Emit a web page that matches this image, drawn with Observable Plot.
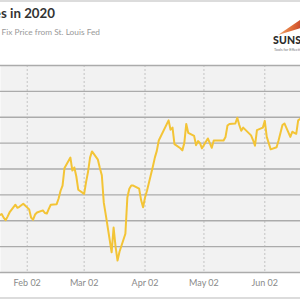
<!DOCTYPE html>
<html>
<head>
<meta charset="utf-8">
<script src="https://cdn.jsdelivr.net/npm/d3@7"></script>
<script src="https://cdn.jsdelivr.net/npm/@observablehq/plot@0.6"></script>
<style>
  html, body { margin: 0; padding: 0; background: #fff; }
  body { width: 300px; height: 300px; overflow: hidden; position: relative; font-family: Lato, "Open Sans", sans-serif; }
  #topline { position: absolute; left: 0; top: 0; width: 300px; height: 2px; background: #dcdcdc; }
  #title { position: absolute; right: 245px; top: 5px; white-space: nowrap; font-weight: 700; font-size: 13.3px; color: #333; }
  #subtitle { position: absolute; right: 200px; top: 27px; white-space: nowrap; font-size: 8.3px; color: #999; }
  #logo { position: absolute; left: 273px; top: 34px; white-space: nowrap; font-weight: 900; font-size: 10.5px; color: #2b2b2b; letter-spacing: 0.2px; }
  #tag { position: absolute; left: 274px; top: 47px; white-space: nowrap; font-size: 3.8px; color: #777; }
  #ray { position: absolute; left: 278px; top: 20px; width: 22px; height: 15px;
         background: linear-gradient(100deg, #f3b27a, #e0703a 60%, #c8462a);
         clip-path: polygon(0% 100%, 100% 0%, 100% 55%); }
  #chart { position: absolute; left: 0; top: 60px; }
  #bottomline { position: absolute; left: 0; top: 297px; width: 300px; height: 2px; background: #dcdcdc; }
</style>
</head>
<body>
<div id="topline"></div>
<div id="title">Gold Prices in 2020</div>
<div id="subtitle">LBMA Gold Price P.M. Fix Price from St. Louis Fed</div>
<div id="ray"></div>
<div id="logo">SUNSHINE PROFITS</div>
<div id="tag">Tools for Effective Gold &amp; Silver Investments</div>
<div id="chart"></div>
<div id="bottomline"></div>
<script>
const dates = [
  "2020-01-15","2020-01-16","2020-01-17","2020-01-20","2020-01-21","2020-01-22","2020-01-23","2020-01-24",
  "2020-01-27","2020-01-28","2020-01-29","2020-01-30","2020-01-31",
  "2020-02-03","2020-02-04","2020-02-05","2020-02-06","2020-02-07",
  "2020-02-10","2020-02-11","2020-02-12","2020-02-13","2020-02-14",
  "2020-02-17","2020-02-18","2020-02-19","2020-02-20","2020-02-21",
  "2020-02-24","2020-02-25","2020-02-26","2020-02-27","2020-02-28",
  "2020-03-02","2020-03-03","2020-03-04","2020-03-05","2020-03-06",
  "2020-03-09","2020-03-10","2020-03-11","2020-03-12","2020-03-13",
  "2020-03-16","2020-03-17","2020-03-18","2020-03-19","2020-03-20",
  "2020-03-23","2020-03-24","2020-03-25","2020-03-26","2020-03-27",
  "2020-03-30","2020-03-31","2020-04-01","2020-04-02","2020-04-03",
  "2020-04-06","2020-04-07","2020-04-08","2020-04-09",
  "2020-04-14","2020-04-15","2020-04-16","2020-04-17",
  "2020-04-20","2020-04-21","2020-04-22","2020-04-23","2020-04-24",
  "2020-04-27","2020-04-28","2020-04-29","2020-04-30","2020-05-01",
  "2020-05-04","2020-05-05","2020-05-06","2020-05-07",
  "2020-05-11","2020-05-12","2020-05-13","2020-05-14","2020-05-15",
  "2020-05-18","2020-05-19","2020-05-20","2020-05-21","2020-05-22",
  "2020-05-26","2020-05-27","2020-05-28","2020-05-29",
  "2020-06-01","2020-06-02","2020-06-03","2020-06-04","2020-06-05",
  "2020-06-08","2020-06-09","2020-06-10","2020-06-11","2020-06-12",
  "2020-06-15","2020-06-16","2020-06-17","2020-06-18","2020-06-19","2020-06-22"
];
const prices = [
  1552,1551,1557,1563,1556,1551,1558,1566,
  1581,1575,1577,1580,1583,
  1572,1556,1552,1562,1566,
  1570,1565,1564,1573,1581,
  1582,1593,1608,1618,1652,
  1672,1647,1653,1636,1610,
  1602,1625,1645,1672,1684,
  1668,1652,1638,1585,1562,
  1489,1537,1500,1473,1490,
  1525,1595,1612,1618,1618,
  1612,1590,1576,1595,1608,
  1655,1672,1685,1705,
  1744,1726,1730,1698,
  1690,1686,1700,1737,1720,
  1714,1696,1704,1700,1690,
  1709,1700,1691,1705,
  1705,1705,1712,1734,1737,
  1738,1749,1735,1724,1730,
  1715,1706,1695,1725,
  1730,1743,1712,1700,1688,
  1692,1705,1720,1735,1738,
  1712,1722,1720,1718,1744,1752
];
const tickDates = ["2020-02-02","2020-03-02","2020-04-02","2020-05-02","2020-06-02"];
const yTicks = [1450,1500,1550,1600,1650,1700,1750,1800,1850];

const data = dates.map((d, i) => ({date: new Date(d), price: prices[i]}));
const ticks = tickDates.map(d => new Date(d));

const chart = Plot.plot({
  width: 300,
  height: 240,
  marginTop: 5,
  marginBottom: 28,
  marginLeft: 0,
  marginRight: 0,
  style: {fontFamily: "Lato, 'Open Sans', sans-serif", fontSize: "9px", color: "#8a8a8a", background: "transparent"},
  x: {type: "utc", domain: [new Date(Date.UTC(2020,0,19,9,36)), new Date(Date.UTC(2020,5,20,4,20))], axis: null},
  y: {domain: [1450, 1850], axis: null},
  marks: [
    Plot.frame({fill: "#f2f2f2", stroke: null}),
    Plot.ruleX(ticks, {stroke: "#c4c4c4", strokeDasharray: "2,2", strokeWidth: 1}),
    Plot.ruleY(yTicks, {stroke: "#ababab", strokeWidth: 1.3}),
    Plot.line(data, {x: "date", y: "price", stroke: "#f3c436", strokeWidth: 2, clip: true}),
    Plot.axisX(ticks, {tickFormat: d3.utcFormat("%b %d"), tickSize: 0, tickPadding: 7, fill: "#8a8a8a", label: null})
  ]
});
document.getElementById("chart").appendChild(chart);
</script>
</body>
</html>
